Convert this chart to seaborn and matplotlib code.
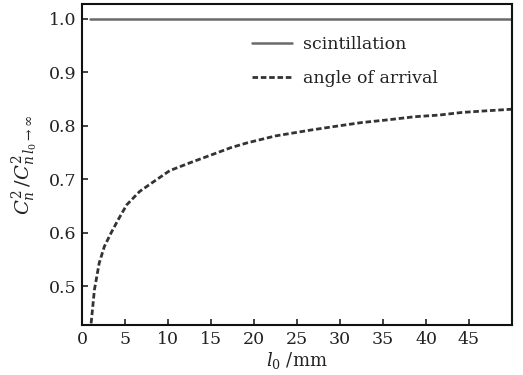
import matplotlib
matplotlib.use("Agg")
import matplotlib.pyplot as plt
import seaborn as sns
import pandas as pd

# data
l0_angle = [1.06, 1.44, 2.0, 2.6, 3.4, 4.2, 5.2, 6.7, 8.3, 10.2, 12.6, 15.3,
            17.3, 19.2, 22.5, 26.6, 29.5, 32.5, 35.5, 38.7, 41.5, 44.2, 47.0, 50.0]
ratio_angle = [0.43, 0.4925, 0.543, 0.574, 0.600, 0.624, 0.652, 0.677, 0.695, 0.716,
               0.731, 0.747, 0.759, 0.768, 0.781, 0.792, 0.799, 0.806, 0.811, 0.817,
               0.820, 0.825, 0.828, 0.831]
l0_scint = [0.9, 50.0]
ratio_scint = [1.0, 1.0]
labels = ["scintillation", "angle of arrival"]
xticks = [0, 5, 10, 15, 20, 25, 30, 35, 40, 45]
yticks = [0.5, 0.6, 0.7, 0.8, 0.9, 1.0]

sns.set_theme(style="white")
plt.rcParams["font.family"] = ["DejaVu Serif"]
plt.rcParams["mathtext.fontset"] = "dejavuserif"

fig = plt.figure(figsize=(5.23, 3.75), dpi=100)
ax = fig.add_axes([82 / 523, 50 / 375, 430 / 523, 321 / 375])

df_s = pd.DataFrame({"l0": l0_scint, "r": ratio_scint})
df_a = pd.DataFrame({"l0": l0_angle, "r": ratio_angle})
sns.lineplot(data=df_s, x="l0", y="r", ax=ax, color="#6a6a6a", lw=1.8, label=labels[0])
sns.lineplot(data=df_a, x="l0", y="r", ax=ax, color="#333333", lw=2.0,
             linestyle=(0, (2.0, 1.0)), label=labels[1])

ax.set_xlim(0, 50)
ax.set_ylim(0.427, 1.028)
ax.set_xticks(xticks)
ax.set_yticks(yticks)
ax.set_yticklabels([f"{v:.1f}" for v in yticks])
ax.tick_params(direction="in", length=4, width=1.2, labelsize=12.5, colors="#222222",
               top=False, right=False, bottom=True, left=True, pad=4)
for s in ax.spines.values():
    s.set_linewidth(1.5)
    s.set_color("#111111")

ax.set_xlabel("$l_0$ /mm", fontsize=13, color="#222222", labelpad=2)
ax.set_ylabel(r"$C_n^2\,/C^2_{n\,l_0\rightarrow\infty}$", fontsize=14, color="#222222", labelpad=6)

leg = ax.legend(loc="upper left", bbox_to_anchor=(0.36, 0.95), frameon=False,
                fontsize=12.5, handlelength=2.3, labelspacing=1.0, handletextpad=0.6)
for t in leg.get_texts():
    t.set_color("#222222")

fig.savefig("out.png", dpi=100)
